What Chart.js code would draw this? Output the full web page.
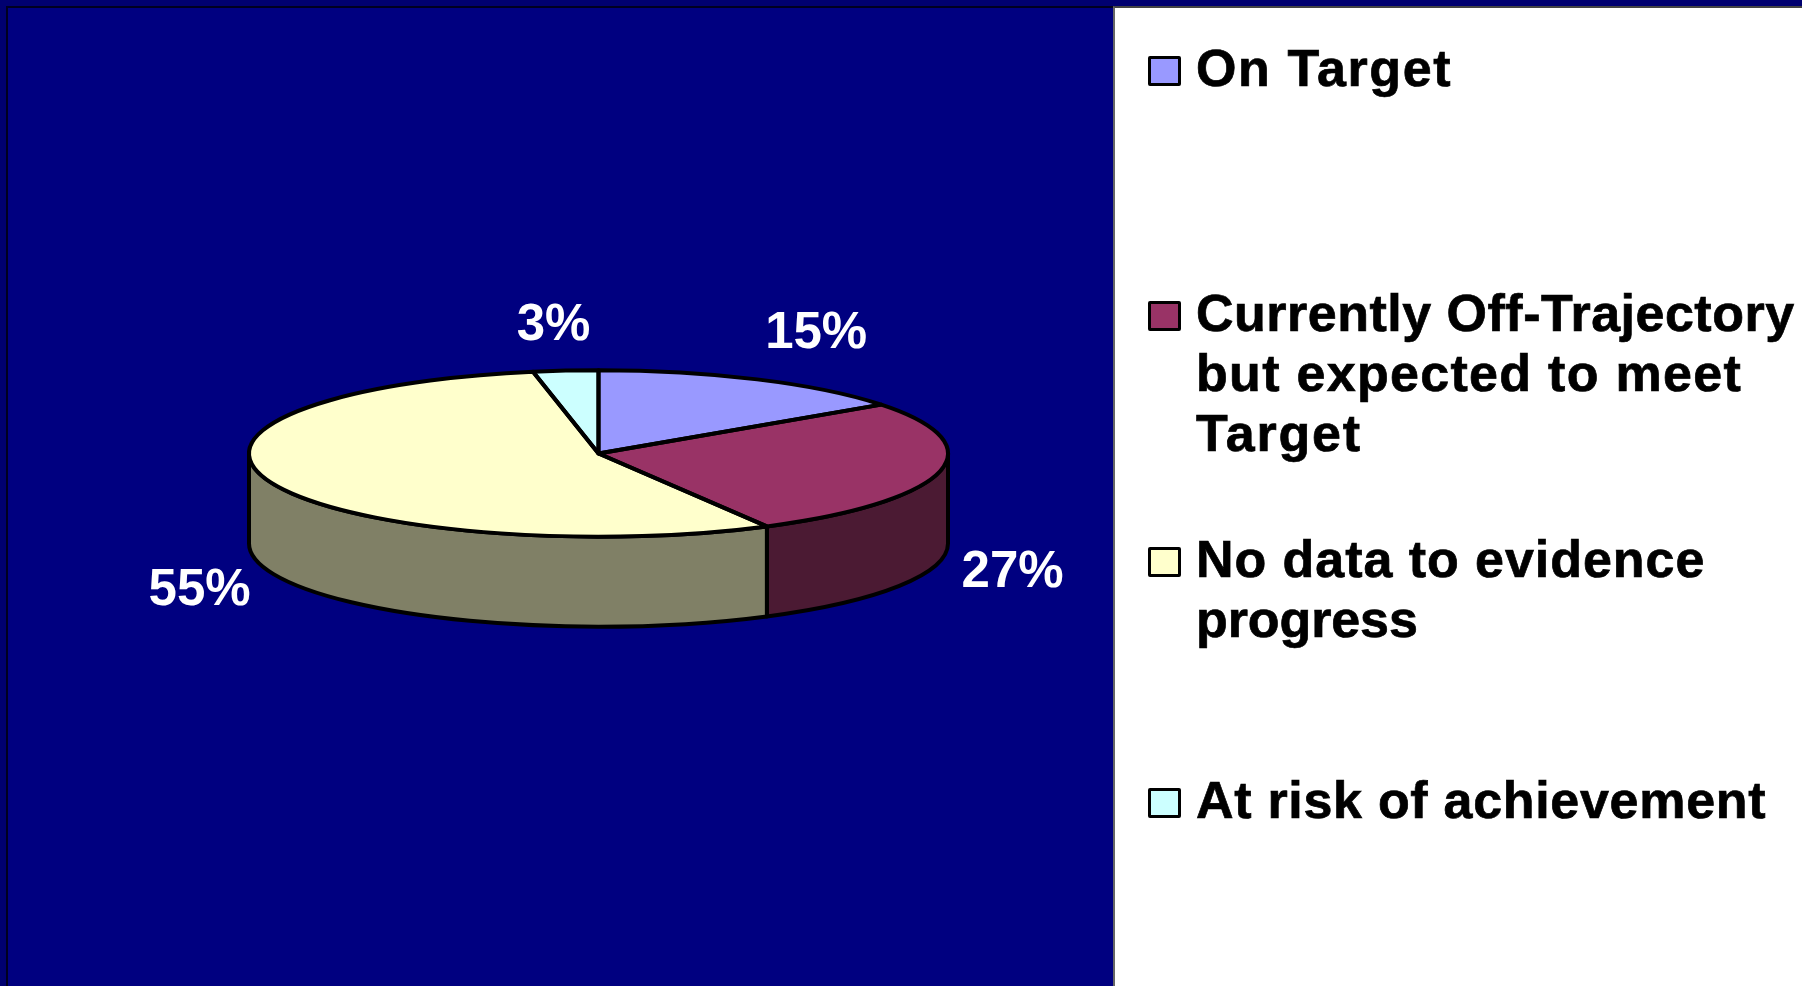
<!DOCTYPE html>
<html>
<head>
<meta charset="utf-8">
<title>Progress against target</title>
<script src="https://cdn.jsdelivr.net/npm/chart.js@4"></script>
<style>
  html, body { margin: 0; height: 100%; background: #000070; overflow: hidden; }
  #panel { position: absolute; left: 6px; top: 6px; width: 1108px; height: 980px; box-sizing: border-box;
           background: #000080; border-top: 2px solid #000020; border-left: 2px solid #000020; }
  #white { position: absolute; left: 1113px; top: 6px; right: 0; bottom: 0; background: #fff;
           border-left: 2px solid #666; border-top: 2px solid #444; box-sizing: border-box; }
  #wrap { position: absolute; left: 0; top: 0; width: 1802px; height: 986px; }
  .item { position: absolute; left: 1148px; font: bold 52px/60px "Liberation Sans", Arial, sans-serif;
          -webkit-text-stroke: 0.7px #000; color: #000; white-space: pre; padding-left: 48px; }
  .item span { display: block; }
  .item i { position: absolute; left: 0; top: 18px; width: 33px; height: 30px; box-sizing: border-box;
            border: 3px solid #000; border-radius: 2px; }
</style>
</head>
<body>
<div id="panel"></div>
<div id="white"></div>
<div id="wrap"><canvas id="grafico" width="1802" height="986"></canvas></div>
<script>
// dados da tarte
const categorias = ['On Target', 'Currently Off-Trajectory\nbut expected to meet\nTarget', 'No data to evidence\nprogress', 'At risk of achievement'];
const valores = [15, 27, 55, 3];
const coresTopo = ['#9999FF', '#993366', '#FFFFCC', '#CCFFFF'];
const coresParede = ['#4D4D80', '#4B1A33', '#808066', '#668080'];

// layout (fora dos dados)
const achatamento = 0.238;   // ellipse ry / rx
const alturaParede = 90;
const deslocRotulos = [[59, -45], [73, 101], [-70, 109], [-12, -45]];
const legendaTopos = [38, 283, 529, 770];
const legendaEspacos = [[1.6], [0.5, 1.3, 1.8], [0.95, -0.1], [0.7]]; // letter-spacing de cada linha

// Tarte "3D": a parede e o contorno sao desenhados a partir dos arcos do proprio Chart.js
const pie3d = {
  id: 'pie3d',
  beforeDatasetsDraw(chart) {
    const ctx = chart.ctx;
    const arcos = chart.getDatasetMeta(0).data;
    const c = arcos[0];
    const ry = c.outerRadius * achatamento;
    ctx.save();
    ctx.lineWidth = 4;
    ctx.strokeStyle = '#000';
    ctx.lineJoin = 'round';
    arcos.forEach((a, i) => {
      const ini = Math.max(a.startAngle, 0);
      const fim = Math.min(a.endAngle, Math.PI);
      if (fim <= ini) return;
      ctx.beginPath();
      ctx.ellipse(a.x, a.y, a.outerRadius, ry, 0, ini, fim, false);
      ctx.ellipse(a.x, a.y + alturaParede, a.outerRadius, ry, 0, fim, ini, true);
      ctx.closePath();
      ctx.fillStyle = coresParede[i];
      ctx.fill();
      ctx.stroke();
    });
    ctx.restore();
    // achata o topo
    ctx.save();
    ctx.translate(c.x, c.y);
    ctx.scale(1, achatamento);
    ctx.translate(-c.x, -c.y);
  },
  afterDatasetsDraw(chart) {
    const ctx = chart.ctx;
    ctx.restore();
    const arcos = chart.getDatasetMeta(0).data;
    ctx.save();
    ctx.lineWidth = 4;
    ctx.strokeStyle = '#000';
    ctx.lineJoin = 'round';
    arcos.forEach((a, i) => {
      const ry = a.outerRadius * achatamento;
      ctx.beginPath();
      ctx.moveTo(a.x, a.y);
      ctx.ellipse(a.x, a.y, a.outerRadius, ry, 0, a.startAngle, a.endAngle, false);
      ctx.closePath();
      ctx.stroke();
      // rotulo da percentagem
      const meio = (a.startAngle + a.endAngle) / 2;
      ctx.fillStyle = '#fff';
      ctx.font = 'bold 51px "Liberation Sans", Arial, sans-serif';
      ctx.textAlign = 'center';
      ctx.textBaseline = 'middle';
      ctx.fillText(valores[i] + '%',
        a.x + Math.cos(meio) * a.outerRadius + deslocRotulos[i][0],
        a.y + Math.sin(meio) * ry + deslocRotulos[i][1]);
    });
    ctx.restore();
  }
};

new Chart(document.getElementById('grafico').getContext('2d'), {
  type: 'pie',
  data: {
    labels: categorias.map(c => c.replace(/\n/g, ' ')),
    datasets: [{ data: valores, backgroundColor: coresTopo, borderWidth: 0, hoverOffset: 0 }]
  },
  options: {
    responsive: false,
    animation: false,
    layout: { padding: { left: 249, right: 854, top: 104, bottom: 183 } },
    plugins: { legend: { display: false }, tooltip: { enabled: false } }
  },
  plugins: [pie3d]
});

// Legenda em HTML: o espacamento original nao e regular
categorias.forEach((nome, i) => {
  const div = document.createElement('div');
  div.className = 'item';
  div.style.top = legendaTopos[i] + 'px';
  nome.split('\n').forEach((linha, j) => {
    const s = document.createElement('span');
    s.style.letterSpacing = legendaEspacos[i][j] + 'px';
    s.textContent = linha;
    div.appendChild(s);
  });
  const caixa = document.createElement('i');
  caixa.style.background = coresTopo[i];
  div.appendChild(caixa);
  document.body.appendChild(div);
});
</script>
</body>
</html>
